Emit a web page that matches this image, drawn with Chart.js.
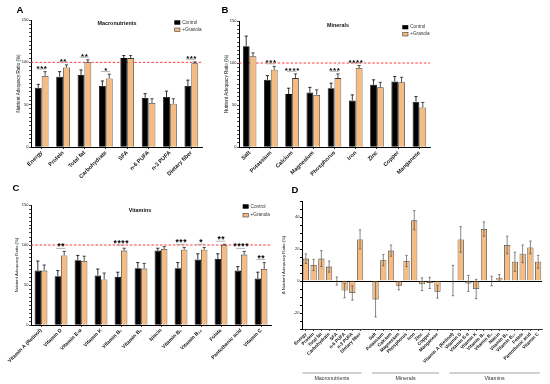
<!DOCTYPE html>
<html><head><meta charset="utf-8">
<script src="https://cdn.jsdelivr.net/npm/chart.js@4.4.1/dist/chart.umd.min.js"></script>
<style>
html,body{margin:0;padding:0;background:#fff;}
#wrap{position:relative;width:550px;height:384px;overflow:hidden;background:#fff;}
canvas{position:absolute;}
</style></head><body>
<div id="wrap">
<canvas id="cA" width="275" height="190" style="left:0;top:0"></canvas>
<canvas id="cB" width="340" height="190" style="left:210px;top:0"></canvas>
<canvas id="cC" width="285" height="204" style="left:0;top:180px"></canvas>
<canvas id="cD" width="275" height="204" style="left:275px;top:180px"></canvas>
</div>
<script>
// ---------------- DATA ----------------
const macroLabels = ['Energy','Protein','Total fat','Carbohydrate','SFA','n-6 PUFA','n-3 PUFA','Dietary fiber'];
const macroControl = [70,83,85,72,105,58,59,72];
const macroControlErr = [4,6,6,6,3,5,7,7];
const macroGranola = [84,94,100,81,105,52,51,99];
const macroGranolaErr = [5,3,3,5,3,5,6,1.5];
const macroSig = ['***','**','**','*','','','','***'];

const mineralLabels = ['Salt','Potassium','Calcium','Magnesium','Phosphorus','Iron','Zinc','Copper','Manganese'];
const mineralControl = [120,80,63,65,70,55.5,74,78,54];
const mineralControlErr = [12,5,7,6,6,6.5,6,6,6];
const mineralGranola = [108,92,82,62,82,94,71,77,47];
const mineralGranolaErr = [4,4,5,6,5,3,6,6,6];
const mineralSig = ['','***','****','','***','****','','',''];

const vitaminLabels = ['Vitamin A (Retinol)','Vitamin D','Vitamin E-α','Vitamin K','Vitamin B₁','Vitamin B₂','Niacin','Vitamin B₆','Vitamin B₁₂','Folate','Pantothenic acid','Vitamin C'];
const vitaminControl = [68,61,81,62,60,71,93,71,82,82.5,68,58];
const vitaminControlErr = [12,7,6,8,6,7,3,7,7,6.5,5,8];
const vitaminGranola = [68,87,80,57,93,70.5,95,94,94,100,88,70];
const vitaminGranolaErr = [7,5,6,8,3,6.5,3,3,3,1,4,8];
const vitaminSig = ['','**','','','****','','','***','*','**','****','**'];

const macroDelta = [14,10,14,9,0,-6,-7.5,26];
const macroDeltaErr = [3,3.5,5,3.5,2.5,4.5,4.5,6];
const mineralDelta = [-11.5,13,19,-3,12.5,38,-2,-1.2,-6.7];
const mineralDeltaErr = [11,3.5,3.5,2.5,3.5,6,4,3.5,4];
const vitaminDelta = [0.3,26,-1.5,-5,32.5,0,2,22.5,12,17,21,12];
const vitaminDeltaErr = [9.5,8,5,6,4.5,3,2,5.5,6,5.5,4,4];

const groupNames = ['Macronutrients','Minerals','Vitamins'];
const seriesNames = ['Control','+Granola'];
const mainTicks = [0,50,100,150];
const deltaTicks = [-20,0,20,40];
const adequacyRef = 100;

// ---------------- STYLE ----------------
const FONT = '"Liberation Sans", Arial, Helvetica, sans-serif';
const ORANGE = '#F5BB80';
const EDGE = '#3a3a3a';
Chart.defaults.font.family = FONT;
Chart.defaults.color = '#111';

function makeDeco(s) {
  return {
    id: 'deco',
    beforeDatasetsDraw(chart) {
      if (s.ref == null) return;
      const {ctx, chartArea: ca} = chart; const y = chart.scales.y;
      const py = y.getPixelForValue(s.ref);
      ctx.save(); ctx.strokeStyle = '#ff3a3a'; ctx.lineWidth = 1; ctx.setLineDash([2.5, 1.8]);
      ctx.beginPath(); ctx.moveTo(ca.left, py); ctx.lineTo(ca.right, py); ctx.stroke(); ctx.restore();
    },
    afterDatasetsDraw(chart) {
      const {ctx, chartArea: ca} = chart; const x = chart.scales.x, y = chart.scales.y;
      ctx.save();
      // error bars
      chart.data.datasets.forEach((ds, di) => {
        const meta = chart.getDatasetMeta(di);
        meta.data.forEach((bar, i) => {
          const v = ds.data[i], e = ds.err[i];
          if (v == null || e == null) return;
          const cx = bar.x;
          const y1 = y.getPixelForValue(s.twoSided ? v - e : v);
          const y2 = y.getPixelForValue(v + e);
          ctx.strokeStyle = ds.errColor; ctx.lineWidth = s.errWidth;
          ctx.beginPath(); ctx.moveTo(cx, y1); ctx.lineTo(cx, y2);
          ctx.moveTo(cx - s.cap, y2); ctx.lineTo(cx + s.cap, y2);
          if (s.twoSided) { ctx.moveTo(cx - s.cap, y1); ctx.lineTo(cx + s.cap, y1); }
          ctx.stroke();
        });
      });
      // significance
      if (s.sig) {
        const m0 = chart.getDatasetMeta(0), m1 = chart.getDatasetMeta(1);
        const d0 = chart.data.datasets[0], d1 = chart.data.datasets[1];
        s.sig.forEach((str, i) => {
          if (!str) return;
          const top = Math.min(y.getPixelForValue(d0.data[i] + d0.err[i]), y.getPixelForValue(d1.data[i] + d1.err[i]));
          const xa = m0.data[i].x, xb = m1.data[i].x;
          const ly = top - s.lineGap;
          ctx.strokeStyle = '#a0a0a0'; ctx.lineWidth = 0.8;
          ctx.beginPath(); ctx.moveTo(xa - 1.5, ly); ctx.lineTo(xb + 1, ly); ctx.stroke();
          const cy = top - s.starGapY;
          ctx.fillStyle = '#000'; ctx.font = 'bold ' + s.starSize + 'px ' + FONT;
          ctx.textAlign = 'center'; ctx.textBaseline = 'alphabetic';
          const n = str.length, cxm = (xa + xb) / 2;
          for (let k = 0; k < n; k++) ctx.fillText('*', cxm + (k - (n - 1) / 2) * s.starGap, cy + 0.6 * s.starSize);
        });
      }
      // title
      if (s.title) {
        ctx.fillStyle = '#111'; ctx.font = 'bold 5.4px ' + FONT; ctx.textAlign = 'center'; ctx.textBaseline = 'middle';
        ctx.fillText(s.title, s.titleX, s.titleY);
      }
      // legend
      if (s.legend) {
        const L = s.legend;
        [[ '#000', '#000'], [ORANGE, EDGE]].forEach((c, k) => {
          const yy = L.y + k * L.dy;
          ctx.fillStyle = c[0]; ctx.fillRect(L.x, yy - 1.8, 5.3, 3.6);
          ctx.strokeStyle = c[1]; ctx.lineWidth = 0.6; ctx.strokeRect(L.x, yy - 1.8, 5.3, 3.6);
          ctx.fillStyle = '#333'; ctx.font = '4.7px ' + FONT; ctx.textAlign = 'left'; ctx.textBaseline = 'middle';
          ctx.fillText(seriesNames[k], L.x + 7.5, yy);
        });
      }
      // panel letter
      ctx.fillStyle = '#000'; ctx.font = 'bold 9.5px ' + FONT; ctx.textAlign = 'center'; ctx.textBaseline = 'middle';
      ctx.fillText(s.letter, s.letterX, s.letterY);
      // group brackets
      if (s.groups) {
        s.groups.forEach(g => {
          const xa = x.getPixelForValue(g.from) - 3.5, xb = x.getPixelForValue(g.to) + 1.5;
          ctx.strokeStyle = '#8a8a8a'; ctx.lineWidth = 0.8;
          ctx.beginPath(); ctx.moveTo(xa, s.groupLineY); ctx.lineTo(xb, s.groupLineY); ctx.stroke();
          ctx.fillStyle = '#333'; ctx.font = '5.3px ' + FONT; ctx.textAlign = 'center'; ctx.textBaseline = 'middle';
          ctx.fillText(g.name, (xa + xb) / 2, s.groupLineY + 6);
        });
      }
      ctx.restore();
    }
  };
}

function groupChart(id, labels, ctrl, ctrlErr, gran, granErr, sig, geo, deco) {
  const W = geo.W, H = geo.H, a = geo.area;
  return new Chart(document.getElementById(id), {
    type: 'bar',
    data: {
      labels: labels,
      datasets: [
        {label: seriesNames[0], data: ctrl, err: ctrlErr, errColor: '#000', backgroundColor: '#000', borderColor: '#000', borderWidth: 0.8,
         categoryPercentage: 0.64, barPercentage: 1},
        {label: seriesNames[1], data: gran, err: granErr, errColor: '#222', backgroundColor: ORANGE, borderColor: EDGE, borderWidth: 0.8,
         categoryPercentage: 0.64, barPercentage: 1}
      ]
    },
    options: {
      responsive: false, animation: false, devicePixelRatio: 1,
      layout: {padding: {left: 0, top: a.top, right: W - a.right, bottom: 0}},
      plugins: {legend: {display: false}, tooltip: {enabled: false}, title: {display: false}},
      scales: {
        x: {
          type: 'category',
          grid: {display: true, drawOnChartArea: false, offset: false, tickLength: 2, color: '#000', lineWidth: 0.8},
          border: {color: '#000', width: 1},
          ticks: {autoSkip: false, maxRotation: 45, minRotation: 45, padding: 0.5, color: '#111',
                  font: {size: geo.xFont, weight: 'bold'}},
          afterFit: sc => { sc.height = H - a.bottom; sc.paddingLeft = 0; sc.paddingRight = 0; }
        },
        y: {
          min: 0, max: 150,
          grid: {display: true, drawOnChartArea: false, tickLength: 2, color: '#000', lineWidth: 0.7},
          border: {color: '#000', width: 1},
          ticks: {stepSize: 5, autoSkip: false, padding: 0.5, color: '#111', font: {size: 4},
                  callback: v => mainTicks.includes(v) ? String(v) : ''},
          title: {display: true, text: 'Nutrient Adequacy Ratio (%)', color: '#111', font: {size: geo.yTitleFont},
                  padding: {top: geo.yTitleX - geo.yTitleFont * 0.6, bottom: 0}},
          afterFit: sc => { sc.width = a.left; sc.paddingTop = 0; sc.paddingBottom = 0; }
        }
      }
    },
    plugins: [makeDeco(Object.assign({ref: adequacyRef, twoSided: false, errWidth: 0.8, cap: 1.6, sig: sig}, deco))]
  });
}

groupChart('cA', macroLabels, macroControl, macroControlErr, macroGranola, macroGranolaErr, macroSig,
  {W: 275, H: 190, area: {left: 31, right: 202, top: 20, bottom: 147}, xFont: 5.6, yTitleX: 19, yTitleFont: 4.6},
  {title: groupNames[0], titleX: 117, titleY: 24, legend: {x: 174.7, y: 22.5, dy: 7.3}, letter: 'A', letterX: 20, letterY: 10,
   lineGap: 2.6, starGapY: 5.8, starSize: 8, starGap: 3.6});

groupChart('cB', mineralLabels, mineralControl, mineralControlErr, mineralGranola, mineralGranolaErr, mineralSig,
  {W: 340, H: 190, area: {left: 29, right: 220, top: 21, bottom: 147}, xFont: 5.6, yTitleX: 17, yTitleFont: 4.6},
  {title: groupNames[1], titleX: 128, titleY: 26, legend: {x: 192.7, y: 27.2, dy: 7}, letter: 'B', letterX: 15, letterY: 10,
   lineGap: 2.6, starGapY: 5.8, starSize: 8, starGap: 3.8});

groupChart('cC', vitaminLabels, vitaminControl, vitaminControlErr, vitaminGranola, vitaminGranolaErr, vitaminSig,
  {W: 285, H: 204, area: {left: 31, right: 271, top: 25, bottom: 145}, xFont: 5.1, yTitleX: 17, yTitleFont: 4.3},
  {title: groupNames[2], titleX: 140, titleY: 31, legend: {x: 243, y: 26.5, dy: 8.7}, letter: 'C', letterX: 16, letterY: 8.5,
   lineGap: 3, starGapY: 7.2, starSize: 8.5, starGap: 3.9});

// ---------------- PANEL D ----------------
const deltaLabels = macroLabels.concat([''], mineralLabels, [''], vitaminLabels);
const deltaValues = macroDelta.concat([null], mineralDelta, [null], vitaminDelta);
const deltaErrs = macroDeltaErr.concat([null], mineralDeltaErr, [null], vitaminDeltaErr);
const nM = macroLabels.length, nN = mineralLabels.length, nV = vitaminLabels.length;
(function () {
  const W = 275, H = 204, a = {left: 27, right: 267, top: 21, bottom: 149};
  new Chart(document.getElementById('cD'), {
    type: 'bar',
    data: {labels: deltaLabels, datasets: [{data: deltaValues, err: deltaErrs, errColor: '#555',
      backgroundColor: ORANGE, borderColor: EDGE, borderWidth: 0.8, categoryPercentage: 0.8, barPercentage: 1}]},
    options: {
      responsive: false, animation: false, devicePixelRatio: 1,
      layout: {padding: {left: 0, top: a.top, right: W - a.right, bottom: 0}},
      plugins: {legend: {display: false}, tooltip: {enabled: false}},
      scales: {
        x: {
          type: 'category',
          grid: {display: true, drawOnChartArea: false, offset: false, tickLength: 2, lineWidth: 0.7,
                 color: c => (deltaLabels[c.index] ? '#000' : 'rgba(0,0,0,0)')},
          border: {color: '#000', width: 0.8},
          ticks: {autoSkip: false, maxRotation: 45, minRotation: 45, padding: 0.5, color: '#111', font: {size: 4.6, weight: 'bold'}},
          afterFit: sc => { sc.height = H - a.bottom; sc.paddingLeft = 0; sc.paddingRight = 0; }
        },
        y: {
          min: -30, max: 50,
          grid: {display: true, drawOnChartArea: true, tickLength: 2, lineWidth: 1,
                 color: c => (c.tick && c.tick.value === 0 ? '#000' : 'rgba(0,0,0,0)'), tickColor: '#000'},
          border: {color: '#000', width: 1},
          ticks: {stepSize: 5, autoSkip: false, padding: 0.5, color: '#111', font: {size: 4},
                  callback: v => deltaTicks.includes(v) ? String(v) : ''},
          title: {display: true, text: 'Δ Nutrient Adequacy Ratio (%)', color: '#111', font: {size: 4.3},
                  padding: {top: 9 - 4.3 * 0.6, bottom: 0}},
          afterFit: sc => { sc.width = a.left; sc.paddingTop = 0; sc.paddingBottom = 0; }
        }
      }
    },
    plugins: [makeDeco({ref: null, twoSided: true, errWidth: 0.7, cap: 1.2, letter: 'D', letterX: 20, letterY: 10,
      groupLineY: 193,
      groups: [{name: groupNames[0], from: 0, to: nM - 1},
               {name: groupNames[1], from: nM + 1, to: nM + nN},
               {name: groupNames[2], from: nM + nN + 2, to: nM + nN + 1 + nV}]})]
  });
})();
</script>
</body></html>
